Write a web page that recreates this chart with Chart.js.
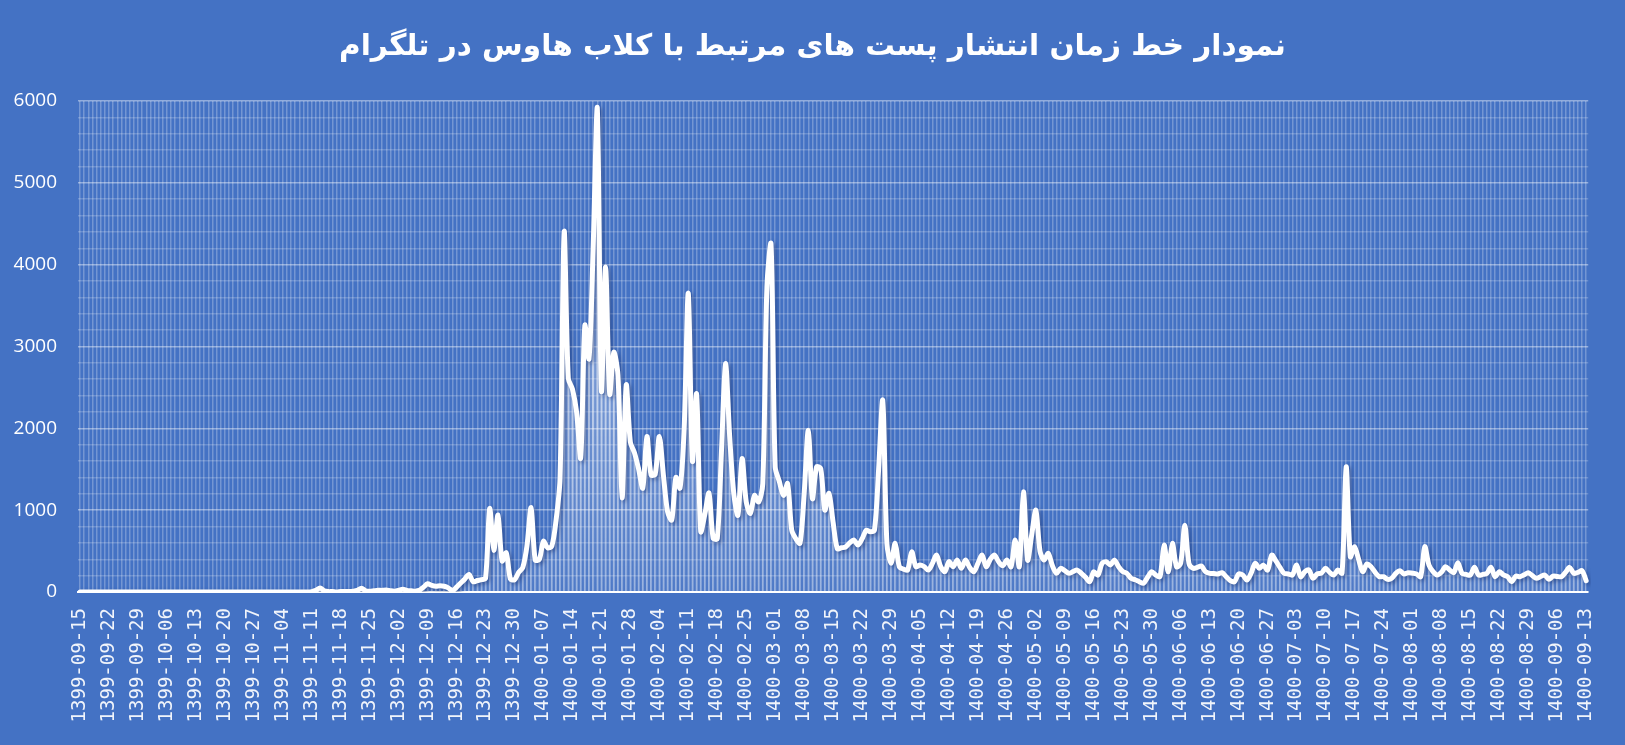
<!DOCTYPE html>
<html>
<head>
<meta charset="utf-8">
<script src="https://cdn.jsdelivr.net/npm/chart.js@4.4.1/dist/chart.umd.min.js"></script>
<style>
html,body{margin:0;padding:0;background:#4472C4;overflow:hidden;}
#wrap{width:1625px;height:745px;position:relative;}
</style>
</head>
<body>
<div id="wrap"><canvas id="c" width="1625" height="745"></canvas></div>
<script>
// ---- chart text ----
const titleText = 'نمودار خط زمان انتشار پست های مرتبط با کلاب هاوس در تلگرام';

// ---- categories: daily dates (Solar Hijri), 1399-09-15 .. 1400-09-13 ----
const firstDate = [1399, 9, 15];
const monthDays1399 = [31,31,31,31,31,31,30,30,30,30,30,30]; // 1399 is a leap year
const monthDays1400 = [31,31,31,31,31,31,30,30,30,30,30,29];
const labelEvery = 7;

// ---- series: number of posts per day ----
const dailyPosts = [
  0,0,0,0,0,0,0,0,0,0,
  0,0,0,0,0,0,0,0,0,0,
  0,0,0,0,0,0,0,0,0,0,
  0,0,0,0,0,0,0,0,0,0,
  0,0,0,0,0,0,0,0,0,0,
  0,0,0,0,0,0,5,20,50,15,
  5,5,0,5,5,5,10,20,45,15,
  10,15,20,20,25,15,10,20,35,20,
  15,10,20,60,100,80,70,75,70,50,
  15,60,110,160,215,125,140,150,170,1020,
  510,940,380,480,160,150,240,300,560,1030,
  390,400,620,540,560,860,1390,4400,2610,2480,
  2200,1640,3260,2850,4200,5920,2460,3970,2420,2930,
  2650,1150,2530,1830,1700,1500,1270,1900,1430,1440,
  1900,1420,980,880,1400,1270,2000,3650,1600,2420,
  740,950,1210,660,650,1700,2790,1900,1200,940,
  1630,1100,960,1180,1100,1325,3725,4250,1530,1350,
  1180,1325,755,650,595,1200,1975,1140,1530,1510,
  1000,1205,850,530,540,550,600,635,575,650,
  755,735,760,1500,2340,595,350,594,309,280,
  268,492,309,329,309,268,350,451,309,248,
  370,309,390,289,390,300,248,350,451,309,
  400,451,370,320,390,309,634,309,1224,390,
  700,1000,500,390,472,320,228,289,260,228,
  250,268,228,180,126,248,207,350,370,330,
  390,309,250,228,167,150,126,106,180,248,
  207,187,573,248,594,309,350,817,350,289,
  300,317,248,228,225,220,236,187,140,126,
  220,207,146,228,350,289,329,268,451,380,
  300,228,220,207,329,187,248,268,167,220,
  230,289,240,207,268,228,1529,431,553,400,
  248,342,309,240,187,187,155,167,228,260,
  220,236,230,220,187,553,330,248,207,240,
  309,270,236,358,228,215,207,301,207,215,
  228,301,187,248,210,187,126,195,187,210,
  236,200,167,190,207,155,195,190,187,240,
  301,228,240,260,138
];

// ---- value axis ----
const yMin = 0, yMax = 6000, yMajorStep = 1000, yMinorStep = 200;

// build category labels from the calendar
const pad2 = n => (n < 10 ? '0' : '') + n;
const categories = [];
(function(){
  let [yy, mm, dd] = firstDate;
  for (let k = 0; k < dailyPosts.length; k++) {
    categories.push(yy + '-' + pad2(mm) + '-' + pad2(dd));
    const len = (yy === 1399 ? monthDays1399 : monthDays1400)[mm - 1];
    dd++;
    if (dd > len) { dd = 1; mm++; if (mm > 12) { mm = 1; yy++; } }
  }
})();

// striped, fading fill under the line
let fillCache = null;
function fillPattern(chart) {
  const a = chart.chartArea, x = chart.scales.x;
  if (!a || !x) return 'rgba(255,255,255,0.35)';
  const key = [a.left, a.top, a.right, a.bottom].join(',');
  if (fillCache && fillCache.key === key) return fillCache.pat;
  const off = document.createElement('canvas');
  off.width = chart.width; off.height = chart.height;
  const c = off.getContext('2d');
  const g1 = c.createLinearGradient(0, a.top, 0, a.bottom);
  g1.addColorStop(0, 'rgba(255,255,255,0.55)');
  g1.addColorStop(1, 'rgba(255,255,255,0.06)');
  c.fillStyle = g1;
  c.fillRect(a.left, a.top, a.right - a.left, a.bottom - a.top);
  const g2 = c.createLinearGradient(0, a.top, 0, a.bottom);
  g2.addColorStop(0, 'rgba(255,255,255,0.75)');
  g2.addColorStop(1, 'rgba(255,255,255,0.22)');
  c.fillStyle = g2;
  for (let i = 0; i < categories.length; i++) {
    const px = x.getPixelForValue(i);
    c.fillRect(px - 1, a.top, 2, a.bottom - a.top);
  }
  const pat = chart.ctx.createPattern(off, 'no-repeat');
  fillCache = { key, pat };
  return pat;
}

const lineShadow = {
  id: 'lineShadow',
  beforeDatasetDraw(chart, args) {
    if (args.index !== 0) return;
    const ctx = chart.ctx;
    ctx.save();
    ctx.shadowColor = 'rgba(25,50,110,0.55)';
    ctx.shadowBlur = 4;
    ctx.shadowOffsetX = 2;
    ctx.shadowOffsetY = 2;
  },
  afterDatasetDraw(chart, args) {
    if (args.index !== 0) return;
    chart.ctx.restore();
  }
};

new Chart(document.getElementById('c'), {
  type: 'line',
  data: {
    labels: categories,
    datasets: [
      {
        data: dailyPosts,
        borderColor: '#ffffff',
        borderWidth: 5,
        borderJoinStyle: 'round',
        borderCapStyle: 'round',
        pointRadius: 0,
        tension: 0.3,
        fill: false
      },
      {
        data: dailyPosts,
        borderWidth: 0,
        borderColor: 'rgba(0,0,0,0)',
        pointRadius: 0,
        tension: 0.3,
        fill: 'origin',
        backgroundColor: ctx => fillPattern(ctx.chart)
      }
    ]
  },
  options: {
    responsive: false,
    devicePixelRatio: 1,
    animation: false,
    layout: { padding: 0 },
    plugins: {
      legend: { display: false },
      tooltip: { enabled: false },
      title: {
        display: true,
        text: titleText,
        color: '#ffffff',
        font: { family: "'DejaVu Sans', sans-serif", size: 29.5, weight: 'bold', lineHeight: 1.2 },
        padding: { top: 30, bottom: 35.6 }
      }
    },
    scales: {
      x: {
        type: 'category',
        offset: true,
        border: { display: true, color: '#ffffff', width: 2 },
        grid: {
          display: true,
          drawTicks: false,
          offset: false,
          color: 'rgba(255,255,255,0.26)',
          lineWidth: 1.5
        },
        ticks: {
          autoSkip: false,
          maxRotation: 90,
          minRotation: 90,
          padding: 16,
          color: 'rgba(255,255,255,0.92)',
          font: { family: "'DejaVu Sans Mono', monospace", size: 19 },
          callback: (v, i) => (i % labelEvery === 0 ? categories[i] : '')
        },
        afterFit: s => { s.height = 153; }
      },
      y: {
        min: yMin,
        max: yMax,
        border: { display: false },
        grid: {
          drawTicks: false,
          lineWidth: 1.5,
          color: c => (c.tick && c.tick.value % yMajorStep === 0 ? 'rgba(255,255,255,0.42)' : 'rgba(255,255,255,0.2)')
        },
        ticks: {
          autoSkip: false,
          stepSize: yMinorStep,
          padding: 21,
          color: '#ffffff',
          font: { family: "'Open Sans', sans-serif", size: 19 },
          callback: v => (v % yMajorStep === 0 ? String(v) : '')
        },
        afterFit: s => { s.width = 78; }
      },
      yRightSpace: {
        position: 'right',
        display: true,
        min: yMin,
        max: yMax,
        grid: { display: false, drawTicks: false },
        border: { display: false },
        ticks: { display: false },
        afterFit: s => { s.width = 24.5; }
      }
    }
  },
  plugins: [lineShadow]
});
</script>
</body>
</html>
